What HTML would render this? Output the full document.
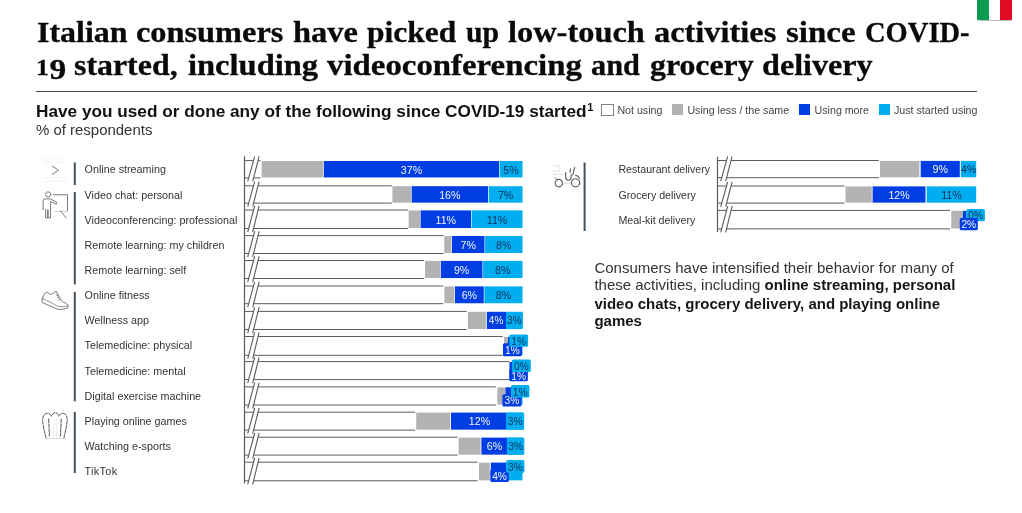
<!DOCTYPE html>
<html><head><meta charset="utf-8"><title>Italian consumers</title>
<style>
html,body{margin:0;padding:0;background:#fff;}
body{width:1022px;height:513px;position:relative;overflow:hidden;will-change:transform;font-family:"Liberation Sans",sans-serif;}
.t{position:absolute;white-space:nowrap;transform-origin:0 0;}
.title{font-family:"Liberation Serif",serif;font-weight:bold;font-size:30px;color:#0a0a0a;line-height:32px;-webkit-text-stroke:0.3px #0a0a0a;}
.bd{left:594.4px;font-size:15px;line-height:18px;color:#333;}
.bd b{color:#161616;}
svg text{font-family:"Liberation Sans",sans-serif;}
</style></head><body>
<div class="t title" style="left:36.5px;top:16.3px;transform:scaleX(1.0656);">Italian</div>
<div class="t title" style="left:135.75px;top:16.3px;transform:scaleX(1.0783);">consumers</div>
<div class="t title" style="left:293.25px;top:16.3px;transform:scaleX(1.0808);">have</div>
<div class="t title" style="left:367px;top:16.3px;transform:scaleX(1.0509);">picked</div>
<div class="t title" style="left:465.75px;top:16.3px;transform:scaleX(0.9919);">up</div>
<div class="t title" style="left:508.25px;top:16.3px;transform:scaleX(1.0804);">low-touch</div>
<div class="t title" style="left:654px;top:16.3px;transform:scaleX(1.0800);">activities</div>
<div class="t title" style="left:785.75px;top:16.3px;transform:scaleX(1.0983);">since</div>
<div class="t title" style="left:864.5px;top:16.3px;transform:scaleX(0.9509);">COVID-</div>
<div class="t title" style="left:74px;top:48.5px;transform:scaleX(1.0629);">started,</div>
<div class="t title" style="left:187.5px;top:48.5px;transform:scaleX(1.0836);">including</div>
<div class="t title" style="left:326.5px;top:48.5px;transform:scaleX(1.0950);">videoconferencing</div>
<div class="t title" style="left:590.75px;top:48.5px;transform:scaleX(1.0099);">and</div>
<div class="t title" style="left:649.5px;top:48.5px;transform:scaleX(1.0602);">grocery</div>
<div class="t title" style="left:762px;top:48.5px;transform:scaleX(1.0716);">delivery</div>
<div class="t title" id="t19" style="left:36.3px;top:48.5px;transform:scaleX(1.16);"><span style="font-size:0.74em;letter-spacing:0.6px">1</span><span style="position:relative;top:4.9px;font-size:0.96em">9</span></div>
<div style="position:absolute;left:36px;top:90.7px;width:940.5px;height:1.6px;background:#484848;"></div>
<div class="t" id="sub" style="left:36.4px;top:100.8px;font-weight:bold;font-size:16.4px;line-height:20px;color:#111;transform:scaleX(1.0495);">Have you used or done any of the following since COVID-19 started<span style="font-size:10.5px;position:relative;top:-5.6px;margin-left:0.6px;">1</span></div>
<div class="t" id="pct" style="left:36.2px;top:120.9px;font-size:14px;line-height:18px;color:#333;transform:scaleX(1.068);">% of respondents</div>
<!-- flag -->
<div style="position:absolute;left:976.5px;top:0;width:35.6px;height:19.8px;background:linear-gradient(to right,#0a9a50 0,#0a9a50 33.4%,#fff 33.4%,#fff 66.7%,#e20a25 66.7%);box-shadow:0 0.6px 1px rgba(0,0,0,.25);"></div>
<!-- legend -->
<div style="position:absolute;left:600.9px;top:103.6px;width:10.7px;height:10.6px;border:1px solid #808080;background:#fff;"></div>
<div style="position:absolute;left:672.0px;top:104.3px;width:11px;height:11px;background:#b3b3b3;"></div>
<div style="position:absolute;left:799.0px;top:104.3px;width:11px;height:11px;background:#003ee4;"></div>
<div style="position:absolute;left:878.6px;top:104.3px;width:11px;height:11px;background:#00adef;"></div>
<div class="t lg" style="left:617.4px;top:104.4px;font-size:10.65px;line-height:13px;color:#444;">Not using</div>
<div class="t lg" style="left:687.4px;top:104.4px;font-size:10.65px;line-height:13px;color:#444;">Using less / the same</div>
<div class="t lg" style="left:814.6px;top:104.4px;font-size:10.65px;line-height:13px;color:#444;">Using more</div>
<div class="t lg" style="left:894px;top:104.4px;font-size:10.65px;line-height:13px;color:#444;">Just started using</div>
<!-- body text -->
<div class="t bd" id="body" style="top:258.8px;">Consumers have intensified their behavior for many of</div>
<div class="t bd" style="top:276.3px;">these activities, including <b>online streaming, personal</b></div>
<div class="t bd" style="top:294.5px;"><b>video chats, grocery delivery, and playing online</b></div>
<div class="t bd" style="top:311.5px;"><b>games</b></div>
<svg width="1022" height="513" viewBox="0 0 1022 513" style="position:absolute;left:0;top:0;">
<path d="M244.5 156.3V483.2" stroke="#5a5a5a" stroke-width="1.2" fill="none"/>
<path d="M244.5 160.6H260.5M244.5 177.9H260.5" stroke="#5a5a5a" stroke-width="1" fill="none"/>
<rect x="261.6" y="161" width="61.8" height="16.45" fill="#b3b3b3"/>
<rect x="323.9" y="161" width="175.1" height="16.45" fill="#003ee4"/>
<rect x="499.6" y="161" width="22.9" height="16.45" fill="#00adef"/>
<polygon points="247.7,181.4 254.7,156.4 259.1,156.4 252.7,181.4" fill="#fff"/>
<path d="M247.7 181.4L254.7 156.4M252.7 181.4L259.1 156.4" stroke="#5a5a5a" stroke-width="1.1" fill="none"/>
<path d="M244.5 185.8H391.8M244.5 203.1H391.8" stroke="#5a5a5a" stroke-width="1" fill="none"/>
<rect x="392.4" y="186.2" width="18.8" height="16.45" fill="#b3b3b3"/>
<rect x="411.7" y="186.2" width="76.3" height="16.45" fill="#003ee4"/>
<rect x="488.7" y="186.2" width="33.8" height="16.45" fill="#00adef"/>
<polygon points="247.7,206.6 254.7,181.6 259.1,181.6 252.7,206.6" fill="#fff"/>
<path d="M247.7 206.6L254.7 181.6M252.7 206.6L259.1 181.6" stroke="#5a5a5a" stroke-width="1.1" fill="none"/>
<path d="M244.5 210H408M244.5 228.5H408" stroke="#5a5a5a" stroke-width="1" fill="none"/>
<rect x="408.6" y="210.4" width="11.5" height="17.65" fill="#b3b3b3"/>
<rect x="420.6" y="210.4" width="50.4" height="17.65" fill="#003ee4"/>
<rect x="471.6" y="210.4" width="50.9" height="17.65" fill="#00adef"/>
<polygon points="247.7,232 254.7,205.8 259.1,205.8 252.7,232" fill="#fff"/>
<path d="M247.7 232L254.7 205.8M252.7 232L259.1 205.8" stroke="#5a5a5a" stroke-width="1.1" fill="none"/>
<path d="M244.5 235.6H443.6M244.5 253.5H443.6" stroke="#5a5a5a" stroke-width="1" fill="none"/>
<rect x="444.2" y="236" width="7.3" height="17.05" fill="#b3b3b3"/>
<rect x="452" y="236" width="32.5" height="17.05" fill="#003ee4"/>
<rect x="485.1" y="236" width="37.4" height="17.05" fill="#00adef"/>
<polygon points="247.7,257 254.7,231.4 259.1,231.4 252.7,257" fill="#fff"/>
<path d="M247.7 257L254.7 231.4M252.7 257L259.1 231.4" stroke="#5a5a5a" stroke-width="1.1" fill="none"/>
<path d="M244.5 260.5H424.2M244.5 278.5H424.2" stroke="#5a5a5a" stroke-width="1" fill="none"/>
<rect x="425" y="260.9" width="15.2" height="17.15" fill="#b3b3b3"/>
<rect x="440.8" y="260.9" width="41.7" height="17.15" fill="#003ee4"/>
<rect x="483.1" y="260.9" width="39.4" height="17.15" fill="#00adef"/>
<polygon points="247.7,282 254.7,256.3 259.1,256.3 252.7,282" fill="#fff"/>
<path d="M247.7 282L254.7 256.3M252.7 282L259.1 256.3" stroke="#5a5a5a" stroke-width="1.1" fill="none"/>
<path d="M244.5 286H443.2M244.5 303.7H443.2" stroke="#5a5a5a" stroke-width="1" fill="none"/>
<rect x="444.4" y="286.4" width="9.8" height="16.85" fill="#b3b3b3"/>
<rect x="454.9" y="286.4" width="28.9" height="16.85" fill="#003ee4"/>
<rect x="484.4" y="286.4" width="38.1" height="16.85" fill="#00adef"/>
<polygon points="247.7,307.2 254.7,281.8 259.1,281.8 252.7,307.2" fill="#fff"/>
<path d="M247.7 307.2L254.7 281.8M252.7 307.2L259.1 281.8" stroke="#5a5a5a" stroke-width="1.1" fill="none"/>
<path d="M244.5 311.4H466.6M244.5 329.5H466.6" stroke="#5a5a5a" stroke-width="1" fill="none"/>
<rect x="467.9" y="311.8" width="17.9" height="17.25" fill="#b3b3b3"/>
<rect x="486.8" y="311.8" width="19.2" height="17.25" fill="#003ee4"/>
<rect x="506" y="311.8" width="16.5" height="17.25" fill="#00adef"/>
<polygon points="247.7,333 254.7,307.2 259.1,307.2 252.7,333" fill="#fff"/>
<path d="M247.7 333L254.7 307.2M252.7 333L259.1 307.2" stroke="#5a5a5a" stroke-width="1.1" fill="none"/>
<path d="M244.5 336.5H502.7M244.5 355.3H502.7" stroke="#5a5a5a" stroke-width="1" fill="none"/>
<rect x="504" y="336.9" width="3.9" height="17.95" fill="#b3b3b3"/>
<rect x="507.9" y="336.9" width="5.1" height="17.95" fill="#003ee4"/>
<rect x="513" y="336.9" width="9.5" height="17.95" fill="#00adef"/>
<polygon points="247.7,358.8 254.7,332.3 259.1,332.3 252.7,358.8" fill="#fff"/>
<path d="M247.7 358.8L254.7 332.3M252.7 358.8L259.1 332.3" stroke="#5a5a5a" stroke-width="1.1" fill="none"/>
<path d="M244.5 361.6H509.3M244.5 379.6H509.3" stroke="#5a5a5a" stroke-width="1" fill="none"/>
<rect x="509.5" y="362" width="2.5" height="17.15" fill="#003ee4"/>
<rect x="512" y="362" width="10.5" height="17.15" fill="#00adef"/>
<polygon points="247.7,383.1 254.7,357.4 259.1,357.4 252.7,383.1" fill="#fff"/>
<path d="M247.7 383.1L254.7 357.4M252.7 383.1L259.1 357.4" stroke="#5a5a5a" stroke-width="1.1" fill="none"/>
<path d="M244.5 386.9H495.9M244.5 405H495.9" stroke="#5a5a5a" stroke-width="1" fill="none"/>
<rect x="497.3" y="387.3" width="7.9" height="17.25" fill="#b3b3b3"/>
<rect x="505.4" y="387.3" width="5.6" height="17.25" fill="#003ee4"/>
<rect x="511" y="387.3" width="11.5" height="17.25" fill="#00adef"/>
<polygon points="247.7,408.5 254.7,382.7 259.1,382.7 252.7,408.5" fill="#fff"/>
<path d="M247.7 408.5L254.7 382.7M252.7 408.5L259.1 382.7" stroke="#5a5a5a" stroke-width="1.1" fill="none"/>
<path d="M244.5 412.2H415.2M244.5 430.1H415.2" stroke="#5a5a5a" stroke-width="1" fill="none"/>
<rect x="416.2" y="412.6" width="34" height="17.05" fill="#b3b3b3"/>
<rect x="451" y="412.6" width="55" height="17.05" fill="#003ee4"/>
<rect x="506" y="412.6" width="16.5" height="17.05" fill="#00adef"/>
<polygon points="247.7,433.6 254.7,408 259.1,408 252.7,433.6" fill="#fff"/>
<path d="M247.7 433.6L254.7 408M252.7 433.6L259.1 408" stroke="#5a5a5a" stroke-width="1.1" fill="none"/>
<path d="M244.5 437.2H457.6M244.5 455.1H457.6" stroke="#5a5a5a" stroke-width="1" fill="none"/>
<rect x="458.6" y="437.6" width="22" height="17.05" fill="#b3b3b3"/>
<rect x="481.4" y="437.6" width="25.6" height="17.05" fill="#003ee4"/>
<rect x="507" y="437.6" width="15.5" height="17.05" fill="#00adef"/>
<polygon points="247.7,458.6 254.7,433 259.1,433 252.7,458.6" fill="#fff"/>
<path d="M247.7 458.6L254.7 433M252.7 458.6L259.1 433" stroke="#5a5a5a" stroke-width="1.1" fill="none"/>
<path d="M244.5 462.2H477.6M244.5 480.8H477.6" stroke="#5a5a5a" stroke-width="1" fill="none"/>
<rect x="479" y="462.6" width="10.8" height="17.75" fill="#b3b3b3"/>
<rect x="490.8" y="462.6" width="15.4" height="17.75" fill="#003ee4"/>
<rect x="506.2" y="462.6" width="16.3" height="17.75" fill="#00adef"/>
<polygon points="247.7,484.3 254.7,458 259.1,458 252.7,484.3" fill="#fff"/>
<path d="M247.7 484.3L254.7 458M252.7 484.3L259.1 458" stroke="#5a5a5a" stroke-width="1.1" fill="none"/>
<text x="411.45" y="173.5" fill="#f4f6ff" font-size="10.65" text-anchor="middle" font-weight="normal">37%</text>
<text x="511.05" y="173.5" fill="#05305a" font-size="10.65" text-anchor="middle" font-weight="normal">5%</text>
<text x="449.85" y="198.7" fill="#f4f6ff" font-size="10.65" text-anchor="middle" font-weight="normal">16%</text>
<text x="505.6" y="198.7" fill="#05305a" font-size="10.65" text-anchor="middle" font-weight="normal">7%</text>
<text x="445.8" y="223.5" fill="#f4f6ff" font-size="10.65" text-anchor="middle" font-weight="normal">11%</text>
<text x="497.05" y="223.5" fill="#05305a" font-size="10.65" text-anchor="middle" font-weight="normal">11%</text>
<text x="468.25" y="248.8" fill="#f4f6ff" font-size="10.65" text-anchor="middle" font-weight="normal">7%</text>
<text x="503.8" y="248.8" fill="#05305a" font-size="10.65" text-anchor="middle" font-weight="normal">8%</text>
<text x="461.65" y="273.75" fill="#f4f6ff" font-size="10.65" text-anchor="middle" font-weight="normal">9%</text>
<text x="502.8" y="273.75" fill="#05305a" font-size="10.65" text-anchor="middle" font-weight="normal">8%</text>
<text x="469.35" y="299.1" fill="#f4f6ff" font-size="10.65" text-anchor="middle" font-weight="normal">6%</text>
<text x="503.45" y="299.1" fill="#05305a" font-size="10.65" text-anchor="middle" font-weight="normal">8%</text>
<text x="496.1" y="324.2" fill="#f4f6ff" font-size="10.1" text-anchor="middle" font-weight="normal">4%</text>
<rect x="506" y="311.9" width="16.8" height="16.7" rx="1.5" fill="#00adef"/>
<text x="514.4" y="324.2" fill="#05305a" font-size="10.2" text-anchor="middle" font-weight="normal">3%</text>
<rect x="503" y="343.3" width="18.9" height="12.9" rx="1.5" fill="#003ee4"/>
<text x="512.45" y="354.4" fill="#f4f6ff" font-size="10.2" text-anchor="middle" font-weight="normal">1%</text>
<rect x="509.3" y="334.6" width="18.8" height="12.2" rx="1.5" fill="#00adef"/>
<text x="518.7" y="345" fill="#05305a" font-size="10.2" text-anchor="middle" font-weight="normal">1%</text>
<rect x="509.3" y="368.7" width="18.6" height="12.6" rx="1.5" fill="#003ee4"/>
<text x="518.6" y="379.6" fill="#f4f6ff" font-size="10.2" text-anchor="middle" font-weight="normal">1%</text>
<rect x="511.9" y="359.5" width="18.9" height="12.5" rx="1.5" fill="#00adef"/>
<text x="521.35" y="370.3" fill="#05305a" font-size="10.2" text-anchor="middle" font-weight="normal">0%</text>
<rect x="502.4" y="394.2" width="19.1" height="12.2" rx="1.5" fill="#003ee4"/>
<text x="511.95" y="403.8" fill="#f4f6ff" font-size="10.2" text-anchor="middle" font-weight="normal">3%</text>
<rect x="511" y="385" width="18.4" height="12.5" rx="1.5" fill="#00adef"/>
<text x="520.2" y="395.5" fill="#05305a" font-size="10.2" text-anchor="middle" font-weight="normal">1%</text>
<text x="479.5" y="425.4" fill="#f4f6ff" font-size="10.65" text-anchor="middle" font-weight="normal">12%</text>
<rect x="506" y="412.5" width="18.2" height="17.3" rx="1.5" fill="#00adef"/>
<text x="515.1" y="425.4" fill="#05305a" font-size="10.2" text-anchor="middle" font-weight="normal">3%</text>
<text x="494.5" y="450.4" fill="#f4f6ff" font-size="10.65" text-anchor="middle" font-weight="normal">6%</text>
<rect x="507" y="437.5" width="17.3" height="17.3" rx="1.5" fill="#00adef"/>
<text x="515.65" y="450.4" fill="#05305a" font-size="10.2" text-anchor="middle" font-weight="normal">3%</text>
<rect x="490.3" y="469.4" width="18.5" height="12.5" rx="1.5" fill="#003ee4"/>
<text x="499.55" y="479.8" fill="#f4f6ff" font-size="10.2" text-anchor="middle" font-weight="normal">4%</text>
<rect x="506.3" y="460" width="18.1" height="12.8" rx="1.5" fill="#00adef"/>
<text x="515.35" y="470.6" fill="#05305a" font-size="10.2" text-anchor="middle" font-weight="normal">3%</text>
<path d="M717.5 156.8V232" stroke="#5a5a5a" stroke-width="1.2" fill="none"/>
<path d="M717.5 160.5H878.8M717.5 177.7H878.8" stroke="#5a5a5a" stroke-width="1" fill="none"/>
<rect x="880" y="160.9" width="39.4" height="16.35" fill="#b3b3b3"/>
<rect x="920.7" y="160.9" width="39.1" height="16.35" fill="#003ee4"/>
<rect x="960.8" y="160.9" width="15.4" height="16.35" fill="#00adef"/>
<polygon points="720.7,181.2 727.7,156.3 732.1,156.3 725.7,181.2" fill="#fff"/>
<path d="M720.7 181.2L727.7 156.3M725.7 181.2L732.1 156.3" stroke="#5a5a5a" stroke-width="1.1" fill="none"/>
<path d="M717.5 186H844.5M717.5 203.1H844.5" stroke="#5a5a5a" stroke-width="1" fill="none"/>
<rect x="845.5" y="186.4" width="26.3" height="16.25" fill="#b3b3b3"/>
<rect x="872.6" y="186.4" width="52.9" height="16.25" fill="#003ee4"/>
<rect x="926.7" y="186.4" width="49.5" height="16.25" fill="#00adef"/>
<polygon points="720.7,206.6 727.7,181.8 732.1,181.8 725.7,206.6" fill="#fff"/>
<path d="M720.7 206.6L727.7 181.8M725.7 206.6L732.1 181.8" stroke="#5a5a5a" stroke-width="1.1" fill="none"/>
<path d="M717.5 210.4H950M717.5 228.9H950" stroke="#5a5a5a" stroke-width="1" fill="none"/>
<rect x="951.3" y="210.8" width="11.7" height="17.65" fill="#b3b3b3"/>
<rect x="963" y="210.8" width="3.5" height="17.65" fill="#003ee4"/>
<polygon points="720.7,232.4 727.7,206.2 732.1,206.2 725.7,232.4" fill="#fff"/>
<path d="M720.7 232.4L727.7 206.2M725.7 232.4L732.1 206.2" stroke="#5a5a5a" stroke-width="1.1" fill="none"/>
<text x="940.25" y="173.35" fill="#f4f6ff" font-size="10.65" text-anchor="middle" font-weight="normal">9%</text>
<text x="968.8" y="173.35" fill="#05305a" font-size="10.65" text-anchor="middle" font-weight="normal">4%</text>
<text x="899.05" y="198.8" fill="#f4f6ff" font-size="10.65" text-anchor="middle" font-weight="normal">12%</text>
<text x="951.45" y="198.8" fill="#05305a" font-size="10.65" text-anchor="middle" font-weight="normal">11%</text>
<rect x="966.4" y="208.9" width="18.5" height="12.3" rx="1.5" fill="#00adef"/>
<text x="975.65" y="219.4" fill="#05305a" font-size="10.2" text-anchor="middle" font-weight="normal">0%</text>
<rect x="959.8" y="217.9" width="18" height="12.3" rx="1.5" fill="#003ee4"/>
<text x="968.8" y="227.8" fill="#f4f6ff" font-size="10.2" text-anchor="middle" font-weight="normal">2%</text>
<rect x="73.8" y="162.5" width="2" height="22.5" fill="#41525e"/>
<rect x="73.8" y="192" width="2" height="92.4" fill="#41525e"/>
<rect x="73.8" y="292" width="2" height="109.3" fill="#41525e"/>
<rect x="73.8" y="412" width="2" height="61" fill="#41525e"/>
<rect x="583.6" y="162.5" width="2" height="68.5" fill="#41525e"/>
<text x="84.6" y="173.4" fill="#333" font-size="10.75" text-anchor="start" font-weight="normal">Online streaming</text>
<text x="84.6" y="198.6" fill="#333" font-size="10.75" text-anchor="start" font-weight="normal">Video chat: personal</text>
<text x="84.6" y="223.9" fill="#333" font-size="10.75" text-anchor="start" font-weight="normal">Videoconferencing: professional</text>
<text x="84.6" y="249" fill="#333" font-size="10.75" text-anchor="start" font-weight="normal">Remote learning: my children</text>
<text x="84.6" y="273.8" fill="#333" font-size="10.75" text-anchor="start" font-weight="normal">Remote learning: self</text>
<text x="84.6" y="298.9" fill="#333" font-size="10.75" text-anchor="start" font-weight="normal">Online fitness</text>
<text x="84.6" y="324" fill="#333" font-size="10.75" text-anchor="start" font-weight="normal">Wellness app</text>
<text x="84.6" y="349.4" fill="#333" font-size="10.75" text-anchor="start" font-weight="normal">Telemedicine: physical</text>
<text x="84.6" y="374.5" fill="#333" font-size="10.75" text-anchor="start" font-weight="normal">Telemedicine: mental</text>
<text x="84.6" y="399.6" fill="#333" font-size="10.75" text-anchor="start" font-weight="normal">Digital exercise machine</text>
<text x="84.6" y="425" fill="#333" font-size="10.75" text-anchor="start" font-weight="normal">Playing online games</text>
<text x="84.6" y="450.1" fill="#333" font-size="10.75" text-anchor="start" font-weight="normal">Watching e-sports</text>
<text x="84.6" y="475.2" fill="#333" font-size="10.75" text-anchor="start" font-weight="normal"><tspan letter-spacing="0.35">TikTok</tspan></text>
<text x="618.4" y="173.4" fill="#333" font-size="10.65" text-anchor="start" font-weight="normal">Restaurant delivery</text>
<text x="618.4" y="198.6" fill="#333" font-size="10.65" text-anchor="start" font-weight="normal">Grocery delivery</text>
<text x="618.4" y="224.1" fill="#333" font-size="10.65" text-anchor="start" font-weight="normal">Meal-kit delivery</text>

<g fill="none" stroke="#6a6a6a" stroke-width="0.9" stroke-linecap="round" stroke-linejoin="round">
<!-- chevron -->
<path d="M52.4 166.2L58.4 170.2L52.4 174.3"/>
<g stroke="#f0f0f0" stroke-width="0.7"><path d="M43 158.5H67M43 162.5H67M43 177.5H67M43 181.5H67M47 158.5V162.5M59 158.5V162.5M47 177.5V181.5M59 177.5V181.5"/></g>
<!-- presenter -->
<circle cx="48.1" cy="194.4" r="2.6"/>
<path d="M43.1 209.5V201.2Q43.1 198.9 45.4 198.9H50.4L56.8 202.3L56.2 204.2L50.6 201.6V218H48.2V209.8H47.6V218H45.6V209.5"/>
<path d="M53.2 194.8H67.5V210.7"/>
<path d="M54.5 211.3H67.5" stroke="#c4c4c4"/>
<path d="M60.6 211.2L66.2 218"/>
<!-- shoe -->
<path d="M42.4 298.2Q43.8 293 47.2 291.9Q49 294.8 51.6 294.4Q54 291.8 56.4 291.4Q58.6 297.8 62.6 301.8Q66.4 303 68 305Q68.6 307 67.4 308.2Q62 310.2 57.6 309.2Q48.6 305.4 42 302.4Q41.6 300 42.4 298.2Z"/>
<path d="M42.4 298.6Q50 301.6 58 306.4Q63 307.4 67.8 306" stroke-width="0.7"/>
<path d="M56.2 295.4L58.4 294.6M57 297.6L59.4 296.8M58 299.8L60.4 299" stroke-width="0.7"/>
<!-- popcorn -->
<g stroke-dasharray="3.6 1.3" stroke="#555" stroke-width="1">
<path d="M46.2 438.4Q43.4 428 42.6 421.4Q42.4 414.4 46.6 413.4Q50.2 412.8 51.6 416.2Q52.6 412.6 55.2 412.6Q57.8 412.6 58.8 416.2Q60.2 412.8 63.6 413.4Q67.6 414.4 67.2 421.4Q66.4 428 63.8 438.4"/>
<path d="M48.7 419L49.4 436M61.3 419L60.4 436"/>
</g>
<path d="M46.2 438.6H63.8" stroke="#d8d8d8"/>
<path d="M53.8 419V437M56.7 419V437" stroke="#dcdcdc" stroke-width="0.5"/>
<!-- scooter -->
<g stroke-dasharray="2.6 1.1" stroke="#5a5a5a" stroke-width="1.15"><circle cx="558.8" cy="183.1" r="3.7"/><circle cx="575.6" cy="182.8" r="4.1"/></g>
<g stroke="#5a5a5a" stroke-width="1.1">
<path d="M565.7 172.6V177.2Q565.7 180.2 568.4 180.2Q571.1 180.2 571.1 177.2V174.6"/>
<path d="M570.5 168.8L570 172.4M574.7 167.4L572.8 175M575.6 175.4Q578.6 175.8 579.6 178.4"/>
</g>
<path d="M555 177.6L556.6 179.4" />
<path d="M564.4 183.2H570.8" stroke="#d0d0d0"/>
<path d="M553.2 165.8H559.8V171.2H553.2M553.2 174.4H564" stroke="#dcdcdc"/>
</g>

</svg>
</body></html>
